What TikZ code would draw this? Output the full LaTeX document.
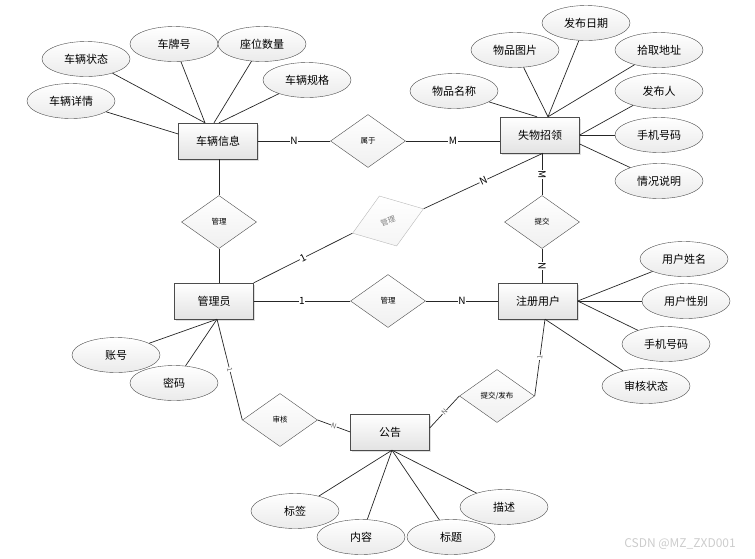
\documentclass[tikz,border=0pt]{standalone}
\usepackage{fontspec}
\setmainfont{Noto Sans CJK SC}
\usetikzlibrary{shapes.geometric,shadows}

\begin{document}
\begin{tikzpicture}
          [x=1pt,y=-1pt,
           entity/.style={draw=gray!60!black, rectangle, top color=white, bottom color=gray!22, minimum width=79pt, minimum height=36pt, drop shadow={shadow xshift=1.5pt, shadow yshift=-1.5pt, opacity=.25}, font=\fontsize{11}{13}\selectfont},
           attr/.style={draw=gray!60!black, ellipse, top color=white, bottom color=gray!16, minimum width=88pt, minimum height=35pt, inner sep=0pt, font=\fontsize{11}{13}\selectfont},
           rel/.style={draw=gray!60!black, diamond, top color=white, bottom color=gray!12, minimum width=75pt, minimum height=53pt, inner sep=0pt, font=\fontsize{7.5}{9}\selectfont},
           card/.style={fill=white, inner sep=0.6pt, font=\fontsize{10}{11}\selectfont},
           smallcard/.style={fill=white, inner sep=0.3pt, text=gray!80!black, font=\fontsize{7}{8}\selectfont},
           link/.style={draw=gray!30!black, line width=0.7pt}]
        \useasboundingbox (0,0) rectangle (755,558);

        % entities
        \node[entity] (car) at (218,141) {车辆信息};
        \node[entity] (lost) at (540,135) {失物招领};
        \node[entity] (admin) at (214,301) {管理员};
        \node[entity] (user) at (538,301) {注册用户};
        \node[entity] (notice) at (390,432) {公告};

        % relations
        \node[rel] (belong) at (368,141) {属于};
        \node[rel] (manage1) at (219,222) {管理};
        \node[rel, draw=gray!55, text=gray, bottom color=gray!8, rotate=19] (manage2) at (388,221) {管理};
        \node[rel] (submit) at (542,222) {提交};
        \node[rel] (manage3) at (388,301) {管理};
        \node[rel] (audit) at (280,420) {审核};
        \node[rel] (publish) at (497,396) {提交/发布};

        % attributes
        \node[attr] (cs) at (86,59) {车辆状态};
        \node[attr] (plate) at (174,44) {车牌号};
        \node[attr] (seats) at (262,44) {座位数量};
        \node[attr] (spec) at (307,80) {车辆规格};
        \node[attr] (detail) at (71,101) {车辆详情};
        \node[attr] (name) at (454,91) {物品名称};
        \node[attr] (pic) at (515,50) {物品图片};
        \node[attr] (date) at (586,23) {发布日期};
        \node[attr] (addr) at (659,50) {拾取地址};
        \node[attr] (pub) at (659,91) {发布人};
        \node[attr] (phone1) at (659,135) {手机号码};
        \node[attr] (note) at (659,181) {情况说明};
        \node[attr] (uname) at (684,259) {用户姓名};
        \node[attr] (sex) at (686,301) {用户性别};
        \node[attr] (phone2) at (666,344) {手机号码};
        \node[attr] (state) at (646,386) {审核状态};
        \node[attr] (pwd) at (174,383) {密码};
        \node[attr] (acc) at (116,355) {账号};
        \node[attr] (tag) at (295,511) {标签};
        \node[attr] (content) at (361,537) {内容};
        \node[attr] (title) at (451,537) {标题};
        \node[attr] (desc) at (504,507) {描述};

        \coordinate (carA) at ([xshift=-13pt]car.north);
        \coordinate (carB) at ([xshift=-4pt]car.north);
        \coordinate (carC) at ([xshift=1pt]car.north);
        \coordinate (carL) at ([yshift=7pt]car.west);
        \coordinate (lostA) at ([xshift=-3pt]lost.north);
        \coordinate (lostB) at ([xshift=8pt]lost.north);
        \coordinate (lostR) at (lost.east);
        \coordinate (lostS) at ([yshift=-9pt]lost.east);
        \coordinate (userR) at (user.east);
        \coordinate (userB) at ([xshift=7pt]user.south);
        \coordinate (adminB) at ([xshift=3pt]admin.south);
        \coordinate (noticeB) at ([xshift=2pt]notice.south);

        \foreach \from/\to in {cs/carA, plate/carA, seats/carB, spec/carC, detail/carL, name/lostA, pic/lostB, date/lostB, addr/lostB, pub/lostR, phone1/lostR, note/lostS, uname/userR, sex/userR, phone2/userR, state/userB, acc/adminB, pwd/adminB, tag/noticeB, content/noticeB, title/noticeB, desc/noticeB}
          \draw[link] (\from) -- (\to);

        \draw[link] (manage1.north |- car.south) -- (manage1.north);
        \draw[link] (manage1.south) -- (manage1.south |- admin.north);
        \draw[link] (car.east) -- node[card] {N} (belong.west);
        \draw[link] (belong.east) -- node[card] {M} ([yshift=-6pt]lost.west);
        \draw[link] (admin.north east) -- node[card, sloped] {1} (manage2.west);
        \draw[link] (manage2.east) -- node[card, sloped] {N} ([xshift=3pt]lost.south);
        \draw[link] (submit.north |- lost.south) -- node[card, sloped] {M} (submit.north);
        \draw[link] (submit.south) -- node[card, sloped] {N} (submit.south |- user.north);
        \draw[link] (admin.east) -- node[card] {1} (manage3.west);
        \draw[link] (manage3.east) -- node[card] {N} (user.west);
        \draw[link] (adminB) -- node[smallcard, sloped] {1} (audit.west);
        \draw[link] (audit.east) -- node[smallcard, sloped] {N} (notice.west);
        \draw[link] ([yshift=4pt]notice.east) -- node[smallcard, sloped] {N} (publish.west);
        \draw[link] (publish.east) -- node[smallcard, sloped] {1} (userB);

        \node[text=gray!40, font=\fontsize{12}{14}\selectfont] (mark) at (680,544) {CSDN @MZ\_ZXD001};
      \end{tikzpicture}
\end{document}
